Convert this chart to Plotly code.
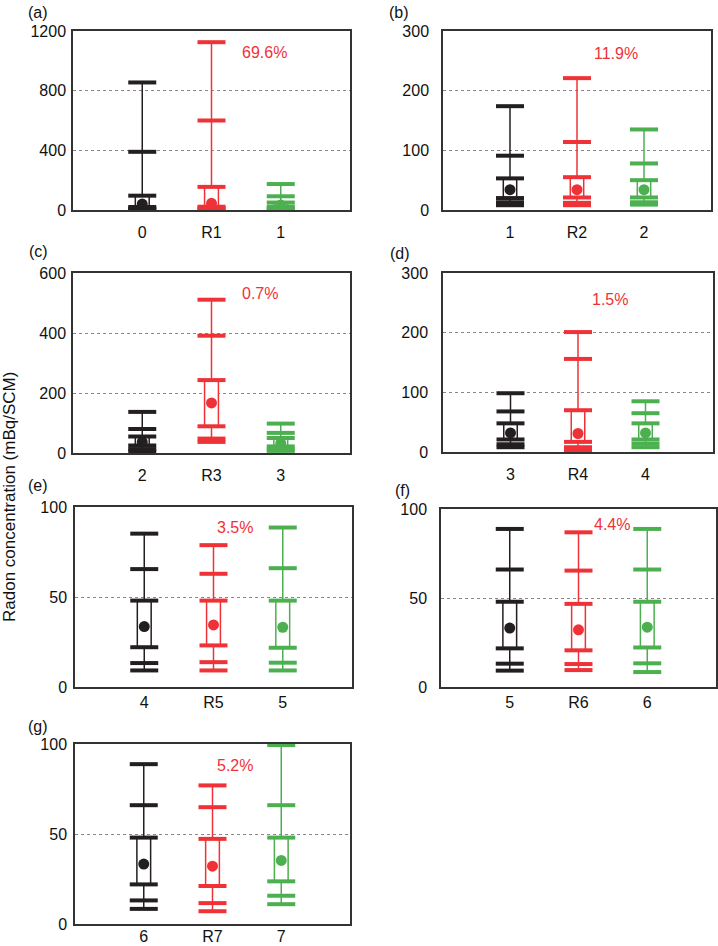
import plotly.graph_objects as go

# ---- data ----
panel_labels = ["(a)", "(b)", "(c)", "(d)", "(e)", "(f)", "(g)"]
categories = [
    ["0", "R1", "1"],
    ["1", "R2", "2"],
    ["2", "R3", "3"],
    ["3", "R4", "4"],
    ["4", "R5", "5"],
    ["5", "R6", "6"],
    ["6", "R7", "7"],
]
# percentiles per panel, ordered [black, red, green]
p1 = [[5, 6, 6], [8, 8, 9], [6, 37, 7], [8, 3, 8], [9.2, 9.2, 9.2], [9.2, 9.5, 8.4], [8.4, 7.1, 11]]
p5 = [[10, 12, 12], [13, 12, 13], [13, 48, 13], [13, 8, 14], [13.3, 13.8, 13.5], [13.1, 12.9, 13.3], [13.1, 11.6, 15.7]]
p25 = [[20, 22, 22], [20, 21, 21], [25, 89, 22], [21, 17, 21], [22.1, 23.1, 21.8], [21.7, 20.6, 22.2], [22, 21.1, 23.7]]
p75 = [[96, 155, 50], [53, 55, 50], [55, 243, 50], [48, 70, 48], [48, 48, 48], [47.9, 46.7, 47.9], [48, 47.3, 48]]
p95 = [[390, 600, 92], [91, 114, 78], [80, 391, 67], [68, 156, 65], [65.5, 62.9, 66], [66, 65.4, 66], [66, 64.9, 66]]
p99 = [[855, 1125, 174], [174, 221, 135], [137, 511, 98], [98.5, 201, 85], [85.2, 78.8, 88.6], [88.8, 86.9, 88.8], [88.8, 77, 99.4]]
means = [[40, 45, 33], [34, 34, 34], [37, 167, 33], [32, 31, 32], [33.6, 34.5, 33.2], [33.1, 32.1, 33.6], [33.3, 32.1, 35.3]]
pct_labels = ["69.6%", "11.9%", "0.7%", "1.5%", "3.5%", "4.4%", "5.2%"]
y_max = [1200, 300, 600, 300, 100, 100, 100]
y_dtick = [400, 100, 200, 100, 50, 50, 50]

# ---- layout helpers (pixel geometry of each panel in the 718x946 page) ----
W, H = 718, 946
panel_px = [  # x0, x1, ytop, ybottom
    (73, 350, 31, 210),
    (443, 711, 31, 210),
    (73, 350, 273, 453),
    (443, 713, 273, 452),
    (75, 352, 507, 687),
    (441, 716, 509, 687),
    (75, 350, 744, 924),
]
x_standoff = [7, 7, 7, 7, 0, 0, -3]
y_standoff = [2, 9, 2, 10, 3, 9, 3]
label_px = [(38, 12), (399, 12), (38, 251), (400, 253), (38, 485), (402, 490), (38, 726)]
pct_pos = [(1.77, 1059), (1.58, 262), (1.70, 533), (1.48, 255), (1.31, 88.6), (1.48, 91.4), (1.33, 88.2)]

colors = ["#231f20", "#ee3237", "#4cb050"]
FONT = "Liberation Sans, Arial, Helvetica, sans-serif"

fig = go.Figure()
annotations = []

for i in range(7):
    ax = "" if i == 0 else str(i + 1)
    xref, yref = "x" + ax, "y" + ax
    cats = categories[i]

    # white boxes (25th-75th percentile)
    fig.add_trace(go.Bar(
        x=cats,
        base=p25[i],
        y=[hi - lo for lo, hi in zip(p25[i], p75[i])],
        width=0.2,
        marker=dict(color="white", line=dict(color=colors, width=1.5)),
        xaxis=xref, yaxis=yref, showlegend=False, hoverinfo="skip",
    ))

    for j, c in enumerate(colors):
        x = cats[j]
        # whiskers, broken around the box
        fig.add_trace(go.Scatter(
            x=[x, x, None, x, x],
            y=[p1[i][j], p25[i][j], None, p75[i][j], p99[i][j]],
            mode="lines", line=dict(color=c, width=1.5),
            xaxis=xref, yaxis=yref, showlegend=False, hoverinfo="skip",
        ))
        # percentile bars
        fig.add_trace(go.Scatter(
            x=[x] * 6,
            y=[p1[i][j], p5[i][j], p25[i][j], p75[i][j], p95[i][j], p99[i][j]],
            mode="markers",
            marker=dict(symbol="line-ew", size=20, line=dict(color=c, width=4)),
            xaxis=xref, yaxis=yref, showlegend=False, hoverinfo="skip",
        ))
        # mean
        fig.add_trace(go.Scatter(
            x=[x], y=[means[i][j]], mode="markers",
            marker=dict(symbol="circle", size=11, color=c),
            xaxis=xref, yaxis=yref, showlegend=False,
        ))

    x0, x1, yt, yb = panel_px[i]
    axis_common = dict(
        showline=True, mirror=True, linecolor="#333333", linewidth=1.5,
        ticks="", tickfont=dict(size=16, color="#111111", family=FONT),
        zeroline=False, automargin=False,
    )
    fig.update_layout({
        "xaxis" + ax: dict(
            axis_common, domain=[x0 / W, x1 / W], anchor=yref, type="category",
            range=[-1, 3], showgrid=False, ticklabelstandoff=x_standoff[i],
        ),
        "yaxis" + ax: dict(
            axis_common, domain=[1 - yb / H, 1 - yt / H], anchor=xref,
            range=[0, y_max[i]], dtick=y_dtick[i], showgrid=True,
            gridcolor="#888888", griddash="dot", gridwidth=1,
            ticklabelstandoff=y_standoff[i],
        ),
    })

    px_, py_ = pct_pos[i]
    annotations.append(dict(
        x=px_, y=py_, xref=xref, yref=yref, text=pct_labels[i], showarrow=False,
        font=dict(size=16, color=colors[1], family=FONT),
    ))
    lx, ly = label_px[i]
    annotations.append(dict(
        x=lx / W, y=1 - ly / H, xref="paper", yref="paper", text=panel_labels[i],
        xanchor="center", yanchor="middle", showarrow=False,
        font=dict(size=16, color="#111111", family=FONT),
    ))

annotations.append(dict(
    x=10 / W, y=1 - 497 / H, xref="paper", yref="paper",
    text="Radon concentration (mBq/SCM)", textangle=-90, showarrow=False,
    xanchor="center", yanchor="middle",
    font=dict(size=17, color="#111111", family=FONT),
))

fig.update_layout(
    width=W, height=H,
    margin=dict(l=0, r=0, t=0, b=0),
    paper_bgcolor="white", plot_bgcolor="white",
    barmode="overlay",
    annotations=annotations,
    font=dict(family=FONT),
)

# drop the default body margin so the 718x946 figure fills the window exactly
fig.write_html(
    "out.html",
    config={"displayModeBar": False},
    post_script="document.body.style.margin='0';",
)
